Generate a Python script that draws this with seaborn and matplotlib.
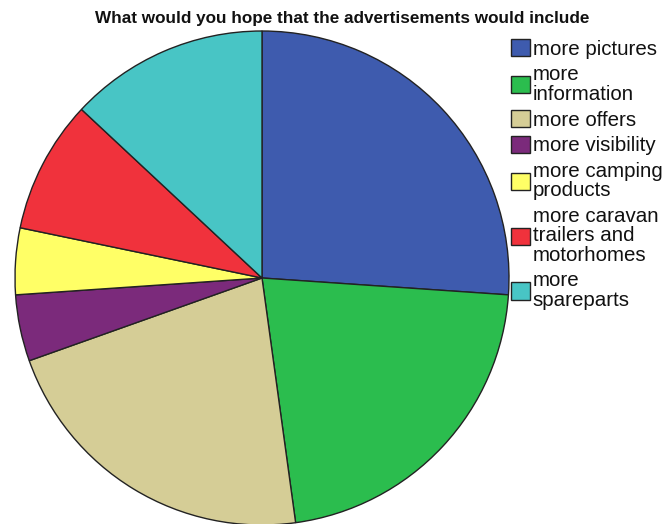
import matplotlib
matplotlib.use("Agg")
import matplotlib.pyplot as plt
import seaborn as sns

categories = ["more pictures", "more\ninformation", "more offers", "more visibility",
              "more camping\nproducts", "more caravan\ntrailers and\nmotorhomes", "more\nspareparts"]
counts = [6, 5, 5, 1, 1, 2, 3]
colors = ["#3E5BAE", "#2BBD4E", "#D5CD96", "#7B2A7B", "#FFFF66", "#F0323C", "#48C5C5"]
title = "What would you hope that the advertisements would include"

sns.set_theme(style="white")
plt.rcParams["font.family"] = ["Liberation Sans", "DejaVu Sans"]

W, H = 665, 524
fig = plt.figure(figsize=(W / 100, H / 100), dpi=100)
cx, cy, r = 262, 278, 247
ax = fig.add_axes([(cx - r) / W, (H - cy - r) / H, 2 * r / W, 2 * r / H])
wedges, _ = ax.pie(counts, colors=colors, startangle=90, counterclock=False,
                   wedgeprops=dict(edgecolor="#222222", linewidth=1.0))
ax.set_aspect("equal")
ax.set_xlim(-1, 1)
ax.set_ylim(-1, 1)
ax.axis("off")

fig.text(342 / W, 1 - 18 / H, title, ha="center", va="center",
         fontsize=12.3, fontweight="bold", color="#111111")

leg = fig.legend(wedges, categories, loc="upper left",
                 bbox_to_anchor=(511 / W, 1 - 39 / H), frameon=False,
                 fontsize=14.8, handlelength=0.92, handleheight=0.92,
                 handletextpad=0.13, labelspacing=0.3, borderpad=0, borderaxespad=0)
for t in leg.get_texts():
    t.set_linespacing(1.05)
    t.set_color("#111111")

fig.savefig("out.png", dpi=100)
